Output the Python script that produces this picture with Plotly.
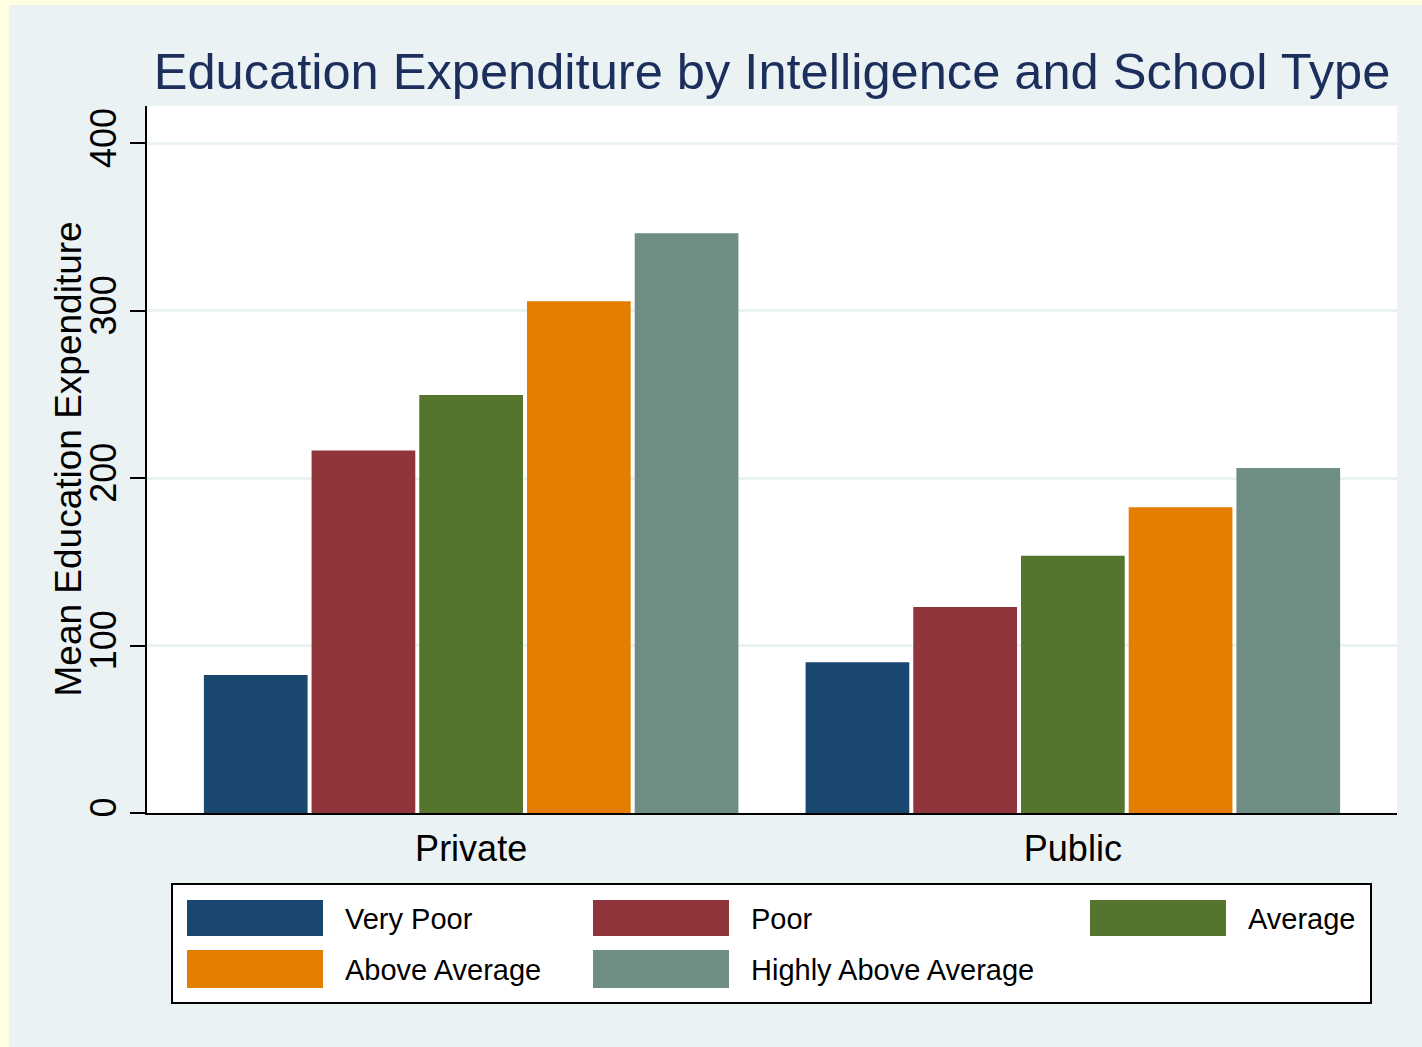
import plotly.graph_objects as go

categories = ["Private", "Public"]
series_names = ["Very Poor", "Poor", "Average", "Above Average", "Highly Above Average"]
very_poor = [82.4, 90.1]
poor = [216.5, 123.0]
average = [249.7, 153.6]
above_average = [305.7, 182.7]
highly_above_average = [346.3, 206.0]
series_values = [very_poor, poor, average, above_average, highly_above_average]
colors = ["#1A476F", "#90353B", "#55752F", "#E37E00", "#6E8E84"]
y_ticks = [0, 100, 200, 300, 400]

FONT = "Liberation Sans, Arial, sans-serif"
BG = "#EAF2F3"

fig = go.Figure()
for name, vals, col in zip(series_names, series_values, colors):
    fig.add_trace(go.Bar(
        x=categories, y=vals, name=name,
        marker=dict(color=col, line=dict(width=0)),
        showlegend=False,
    ))

W, H = 1413, 1042
ml, mr, mt, mb = 138, 25, 101, 234

pw = W - ml - mr
ph = H - mt - mb
def px_x(x):
    return (x - ml) / pw
def px_y(y):
    return (H - mb - y) / ph

fig.update_layout(
    width=W, height=H,
    margin=dict(l=ml, r=mr, t=mt, b=mb, pad=0),
    paper_bgcolor=BG, plot_bgcolor="white",
    barmode="group", bargap=0.105, bargroupgap=0.037,
    font=dict(family=FONT, color="black"),
    title=dict(
        text="Education Expenditure by Intelligence and School Type",
        font=dict(family=FONT, size=50.6, color="#1C2E5C"),
        x=0.5, xref="paper", xanchor="center",
        y=1 - 66 / H, yref="container", yanchor="middle",
    ),
    xaxis=dict(
        type="category", range=[-0.5387, 1.5387],
        showline=True, linecolor="black", linewidth=2,
        ticks="", showgrid=False,
        tickfont=dict(family=FONT, size=36, color="black"),
        ticklabelstandoff=3,
    ),
    yaxis=dict(
        range=[0, 422.3], tickvals=y_ticks, ticktext=[str(v) for v in y_ticks],
        showline=True, linecolor="black", linewidth=2,
        ticks="outside", ticklen=15, tickwidth=2, tickcolor="black",
        tickangle=-90,
        tickfont=dict(family=FONT, size=36, color="black"),
        showgrid=True, gridcolor=BG, gridwidth=3,
        zeroline=False,
    ),
)

fig.add_annotation(xref="paper", yref="paper", x=px_x(59), y=0.5,
                   text="Mean Education Expenditure", textangle=-90,
                   showarrow=False, xanchor="center", yanchor="middle",
                   font=dict(family=FONT, size=37, color="black"))

# custom legend (Stata style)
fig.add_shape(type="rect", xref="paper", yref="paper",
              x0=px_x(163), x1=px_x(1362), y0=px_y(998), y1=px_y(879),
              fillcolor="white", line=dict(color="black", width=2), layer="above")

col_x = [178, 584, 1081]
row_y = [(895, 931), (945, 983)]
for i, (name, col) in enumerate(zip(series_names, colors)):
    r, c = divmod(i, 3)
    x0 = col_x[c]
    y0, y1 = row_y[r]
    fig.add_shape(type="rect", xref="paper", yref="paper",
                  x0=px_x(x0), x1=px_x(x0 + 136), y0=px_y(y1), y1=px_y(y0),
                  fillcolor=col, line=dict(width=0), layer="above")
    fig.add_annotation(xref="paper", yref="paper",
                       x=px_x(x0 + 156), y=px_y((y0 + y1) / 2 + 1),
                       text=name, showarrow=False, xanchor="left", yanchor="middle",
                       font=dict(family=FONT, size=29, color="black"))

fig.write_html("out.html", post_script="document.body.style.margin='5px 0 0 9px';document.body.style.background='#FFFFE0';")
